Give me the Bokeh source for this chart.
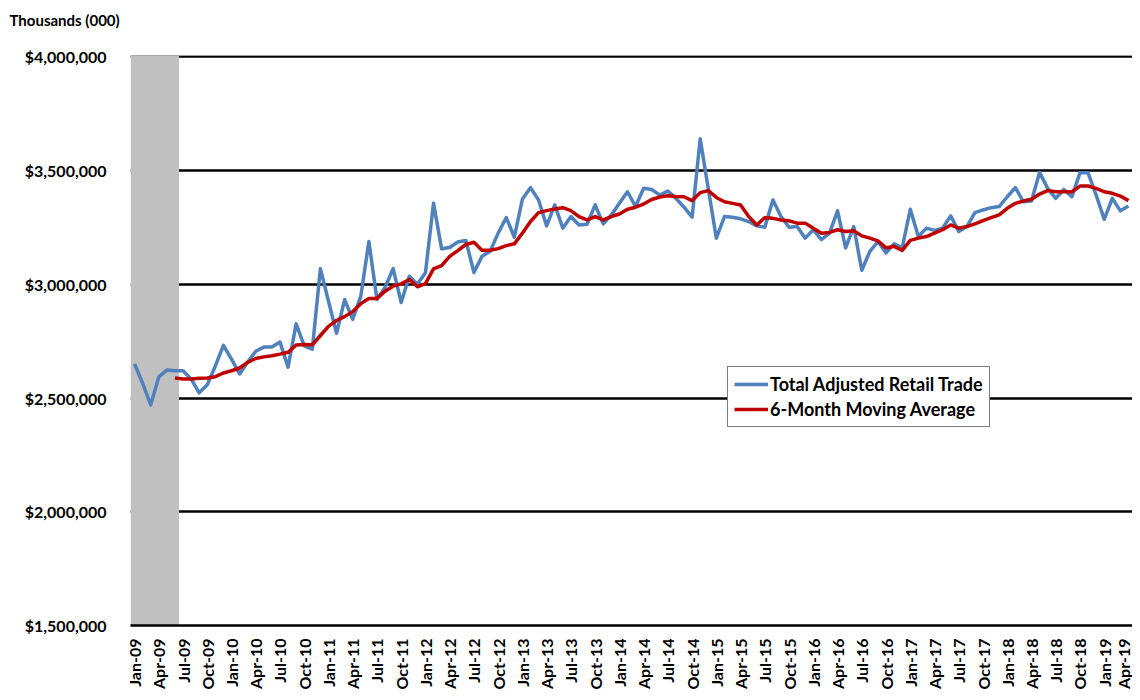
import pandas as pd
from math import pi
from bokeh.plotting import figure
from bokeh.models import (Range1d, FixedTicker, NumeralTickFormatter, Title,
                          Legend, LegendItem)
from bokeh.embed import file_html
from bokeh.resources import INLINE

# ---------------- data ----------------
months = list(pd.date_range("2009-01-01", periods=124, freq="MS").strftime("%b-%y"))

retail_trade = [
    2650000, 2565000, 2470000, 2593000, 2623000, 2620000, 2620000, 2584000, 2523000, 2558000,
    2641000, 2732000, 2671000, 2606000, 2658000, 2706000, 2724000, 2724000, 2746000, 2636000,
    2826000, 2729000, 2715000, 3069000, 2926000, 2785000, 2933000, 2846000, 2948000, 3188000,
    2933000, 2986000, 3069000, 2920000, 3035000, 3000000, 3051000, 3357000, 3156000, 3162000,
    3186000, 3193000, 3052000, 3123000, 3145000, 3225000, 3293000, 3207000, 3375000, 3425000,
    3371000, 3257000, 3349000, 3247000, 3298000, 3261000, 3264000, 3349000, 3266000, 3305000,
    3356000, 3407000, 3342000, 3422000, 3417000, 3392000, 3410000, 3378000, 3339000, 3295000,
    3640000, 3420000, 3203000, 3298000, 3295000, 3288000, 3276000, 3257000, 3251000, 3371000,
    3298000, 3251000, 3254000, 3203000, 3240000, 3196000, 3225000, 3323000, 3160000, 3254000,
    3062000, 3145000, 3188000, 3138000, 3178000, 3160000, 3330000, 3210000, 3247000, 3237000,
    3247000, 3301000, 3232000, 3254000, 3315000, 3327000, 3337000, 3342000, 3385000, 3425000,
    3363000, 3366000, 3492000, 3422000, 3378000, 3417000, 3385000, 3490000, 3490000, 3392000,
    3286000, 3378000, 3323000, 3344000,
]

# 6-month moving average, first value at Jun-09
moving_avg_start = "Jun-09"
moving_avg = [
    2588000, 2584000, 2584000, 2587000, 2588000, 2594000, 2610000, 2620000, 2632000, 2657000,
    2674000, 2681000, 2686000, 2693000, 2701000, 2733000, 2735000, 2734000, 2775000, 2815000,
    2841000, 2858000, 2880000, 2915000, 2938000, 2938000, 2970000, 2992000, 3002000, 3021000,
    2989000, 3003000, 3068000, 3082000, 3123000, 3148000, 3175000, 3185000, 3150000, 3150000,
    3157000, 3170000, 3178000, 3225000, 3276000, 3315000, 3324000, 3331000, 3337000, 3324000,
    3298000, 3283000, 3298000, 3283000, 3298000, 3309000, 3330000, 3339000, 3353000, 3373000,
    3384000, 3389000, 3386000, 3385000, 3368000, 3403000, 3412000, 3382000, 3363000, 3356000,
    3349000, 3298000, 3261000, 3293000, 3290000, 3283000, 3279000, 3269000, 3269000, 3247000,
    3225000, 3228000, 3240000, 3232000, 3236000, 3213000, 3203000, 3191000, 3160000, 3167000,
    3149000, 3193000, 3203000, 3210000, 3225000, 3240000, 3261000, 3247000, 3254000, 3266000,
    3280000, 3293000, 3305000, 3334000, 3356000, 3366000, 3374000, 3397000, 3412000, 3407000,
    3407000, 3407000, 3432000, 3432000, 3422000, 3407000, 3400000, 3388000, 3368000,
]

recession_months = ["Jan-09", "Feb-09", "Mar-09", "Apr-09", "May-09", "Jun-09"]
y_ticks = [1500000, 2000000, 2500000, 3000000, 3500000, 4000000]
series_names = ["Total Adjusted Retail Trade", "6-Month Moving Average"]
units_text = "Thousands (000)"

# ---------------- figure ----------------
FONT = "Lato"
Y_TOP = y_ticks[-1] + 6000  # tiny headroom so the top gridline is drawn
p = figure(width=1132, height=692, output_backend="svg", toolbar_location=None,
           x_range=Range1d(-0.5, len(months) - 0.5),
           y_range=Range1d(y_ticks[0], Y_TOP),
           min_border_left=130, min_border_right=0, min_border_top=55,
           min_border_bottom=64)
p.outline_line_color = None
p.background_fill_color = "white"

# trailing newline reserves a second (empty) line so the label sits near the top
p.title = Title(text=units_text + "\n", align="left", vertical_align="top",
                offset=-121, standoff=14,
                text_font=FONT, text_font_style="bold", text_font_size="15px",
                text_color="black")

# recession shading
rec_idx = [months.index(m) for m in recession_months]
p.quad(left=[min(rec_idx) - 0.5], right=[max(rec_idx) + 0.5],
       bottom=[y_ticks[0]], top=[Y_TOP],
       fill_color="#C0C0C0", line_color=None)

x_all = list(range(len(months)))
start = months.index(moving_avg_start)
x_ma = list(range(start, start + len(moving_avg)))

r1 = p.line(x_all, retail_trade, line_color="#4F81BD", line_width=3.5, line_join="round")
r2 = p.line(x_ma, moving_avg, line_color="#C00000", line_width=3.5, line_join="round")

# axes
p.xgrid.grid_line_color = None
p.ygrid.grid_line_color = "black"
p.ygrid.grid_line_width = 2.5
p.ygrid.ticker = FixedTicker(ticks=y_ticks)

yax = p.yaxis[0]
yax.ticker = FixedTicker(ticks=y_ticks)
yax.formatter = NumeralTickFormatter(format="$0,0")
yax.axis_line_color = None
yax.major_tick_line_color = None
yax.minor_tick_line_color = None
yax.major_label_text_font = FONT
yax.major_label_text_font_style = "bold"
yax.major_label_text_font_size = "16px"
yax.major_label_text_color = "black"
yax.major_label_standoff = 18

xax = p.xaxis[0]
xt = list(range(0, len(months), 3))
xax.ticker = FixedTicker(ticks=xt)
xax.major_label_overrides = {i: months[i] for i in xt}
xax.major_label_orientation = pi / 2
xax.axis_line_color = "black"
xax.axis_line_width = 2.5
xax.major_tick_line_color = None
xax.minor_tick_line_color = None
xax.major_label_text_font = FONT
xax.major_label_text_font_style = "bold"
xax.major_label_text_font_size = "16px"
xax.major_label_text_color = "black"
xax.major_label_standoff = 7

legend = Legend(items=[LegendItem(label=series_names[0], renderers=[r1]),
                       LegendItem(label=series_names[1], renderers=[r2])],
                location=(597, 198))
legend.border_line_color = "black"
legend.border_line_width = 1
legend.background_fill_color = "white"
legend.background_fill_alpha = 1
legend.label_text_font = FONT
legend.label_text_font_style = "bold"
legend.label_text_font_size = "18px"
legend.label_text_color = "black"
legend.glyph_width = 34
legend.label_standoff = 2
legend.spacing = 3
legend.padding = 6
legend.margin = 0
legend.label_height = 22
p.add_layout(legend)

open("out.html", "w").write(file_html(p, INLINE))
